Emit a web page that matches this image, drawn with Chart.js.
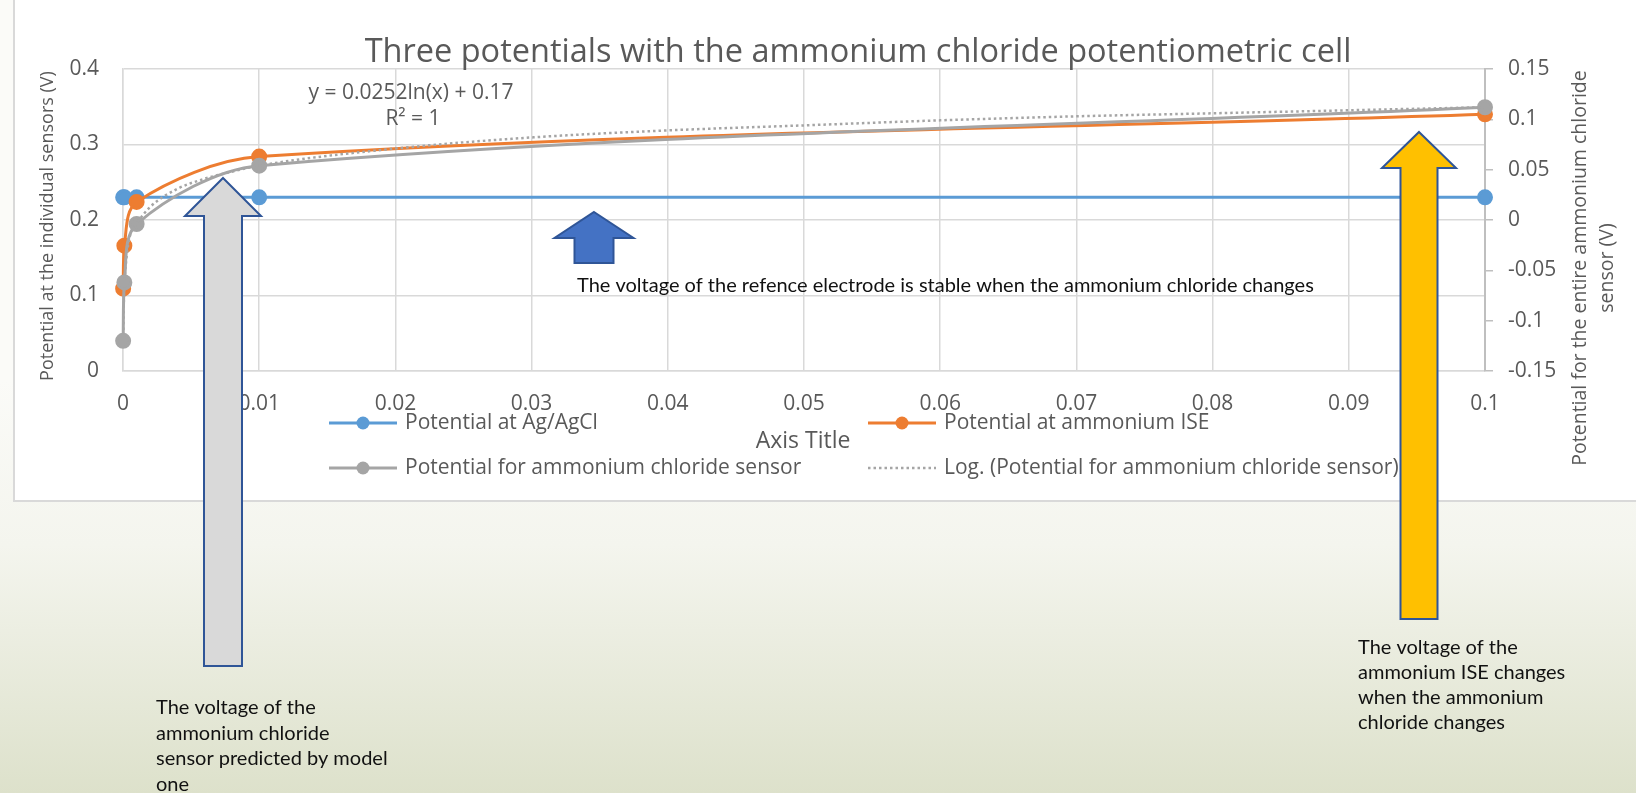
<!DOCTYPE html>
<html>
<head>
<meta charset="utf-8">
<script src="https://cdn.jsdelivr.net/npm/chart.js@4.4.0/dist/chart.umd.min.js"></script>
<style>
  html, body { margin: 0; padding: 0; background: #fff; }
  canvas { display: block; }
</style>
</head>
<body>
<canvas id="myGraph" width="1636" height="793"></canvas>
<script>
// concentratia de clorura de amoniu (axa x)
const concentration = [0.00001, 0.0001, 0.001, 0.01, 0.1];
const agAgClPotential = [0.23, 0.23, 0.23, 0.23, 0.23];
const ammoniumIsePotential = [0.109, 0.166, 0.224, 0.284, 0.340];
const sensorPotential = [-0.120, -0.062, -0.004, 0.054, 0.112];

// linia de trend logaritmica
const trendX = [0.00001, 0.0001, 0.001, 0.002, 0.004, 0.006, 0.008, 0.01, 0.02, 0.03, 0.04, 0.05, 0.06, 0.07, 0.08, 0.09, 0.1];
const trendY = [-0.120, -0.062, -0.004, 0.013, 0.031, 0.041, 0.048, 0.054, 0.071, 0.082, 0.089, 0.094, 0.099, 0.103, 0.106, 0.109, 0.112];
const trendLabel = ["y = 0.0252ln(x) + 0.17", "R² = 1"];

const seriesNames = [
  "Potential at Ag/AgCl",
  "Potential at ammonium ISE",
  "Potential for ammonium chloride sensor",
  "Log. (Potential for ammonium chloride sensor)"
];

const chartTitle = "Three potentials with the ammonium chloride potentiometric cell";
const xAxisTitle = "Axis Title";
const leftAxisTitle = "Potential at the individual sensors (V)";
const rightAxisTitle = ["Potential for the entire ammonium chloride", "sensor (V)"];

const noteReference = "The voltage of the refence electrode is stable when the ammonium chloride changes";
const noteModel = ["The voltage of the", "ammonium chloride", "sensor predicted by model", "one"];
const noteIse = ["The voltage of the", "ammonium ISE changes", "when the ammonium", "chloride changes"];

const textGray = '#595959';
const gridGray = '#d9d9d9';
const chartFont = '"Open Sans", "Noto Sans", sans-serif';
const noteFont = 'Lato, "Noto Sans", sans-serif';

function toPoints(xs, ys) {
  return xs.map((x, i) => ({ x: x, y: ys[i] }));
}

function seriesStyle(color) {
  return {
    borderColor: color,
    backgroundColor: color,
    pointBackgroundColor: color,
    pointBorderColor: color,
    borderWidth: 3,
    pointRadius: 6.5,
    pointHoverRadius: 6.5,
    tension: 0.32,
    clip: false,
    fill: false
  };
}

function drawUpArrow(ctx, a) {
  ctx.save();
  ctx.beginPath();
  ctx.moveTo(a.tipX, a.tipY);
  ctx.lineTo(a.tipX + a.head, a.baseY);
  ctx.lineTo(a.tipX + a.shaft, a.baseY);
  ctx.lineTo(a.tipX + a.shaft, a.bottom);
  ctx.lineTo(a.tipX - a.shaft, a.bottom);
  ctx.lineTo(a.tipX - a.shaft, a.baseY);
  ctx.lineTo(a.tipX - a.head, a.baseY);
  ctx.closePath();
  ctx.fillStyle = a.fill;
  ctx.fill();
  ctx.lineWidth = 2;
  ctx.strokeStyle = '#2f5597';
  ctx.lineJoin = 'miter';
  ctx.stroke();
  ctx.restore();
}

function drawRotated(ctx, text, x, y) {
  ctx.save();
  ctx.translate(x, y);
  ctx.rotate(-Math.PI / 2);
  ctx.fillText(text, 0, 0);
  ctx.restore();
}

const backgroundPlugin = {
  id: 'slideBackground',
  beforeDraw(chart) {
    const ctx = chart.ctx;
    const w = chart.width, h = chart.height;
    ctx.save();
    const g = ctx.createLinearGradient(0, 380, 0, h);
    g.addColorStop(0, '#fbfbf8');
    g.addColorStop(0.4, '#f4f5ee');
    g.addColorStop(1, '#dde1cb');
    ctx.fillStyle = g;
    ctx.fillRect(0, 0, w, h);
    ctx.fillStyle = '#ffffff';
    ctx.fillRect(13, -5, w, 506);
    ctx.strokeStyle = gridGray;
    ctx.lineWidth = 2;
    ctx.strokeRect(14, -5, w + 10, 506);
    ctx.restore();
  }
};

const decorPlugin = {
  id: 'decor',
  afterDraw(chart) {
    const ctx = chart.ctx;
    ctx.save();

    // titlul
    ctx.fillStyle = textGray;
    ctx.font = '32.5px ' + chartFont;
    ctx.textAlign = 'center';
    ctx.textBaseline = 'alphabetic';
    ctx.fillText(chartTitle, 858, 62);

    // ecuatia trendului
    ctx.font = '21px ' + chartFont;
    ctx.fillText(trendLabel[0], 411, 99);
    ctx.fillText(trendLabel[1], 413, 125);

    // titlurile axelor verticale
    ctx.textBaseline = 'middle';
    ctx.font = '18px ' + chartFont;
    drawRotated(ctx, leftAxisTitle, 48, 226);
    ctx.font = '19.5px ' + chartFont;
    drawRotated(ctx, rightAxisTitle[0], 1580, 268);
    drawRotated(ctx, rightAxisTitle[1], 1607, 268);

    // titlul axei x
    ctx.font = '23px ' + chartFont;
    ctx.fillText(xAxisTitle, 803, 441);

    // legenda
    const cols = [329, 868];
    const rows = [423, 468];
    ctx.textAlign = 'left';
    ctx.font = '21px ' + chartFont;
    chart.data.datasets.forEach((ds, i) => {
      const x = cols[i % 2];
      const y = rows[Math.floor(i / 2)];
      ctx.save();
      ctx.strokeStyle = ds.borderColor;
      ctx.lineWidth = ds.borderWidth;
      ctx.setLineDash(ds.borderDash || []);
      ctx.beginPath();
      ctx.moveTo(x, y);
      ctx.lineTo(x + 68, y);
      ctx.stroke();
      if (ds.pointRadius > 0) {
        ctx.fillStyle = ds.pointBackgroundColor;
        ctx.beginPath();
        ctx.arc(x + 34, y, ds.pointRadius, 0, Math.PI * 2);
        ctx.fill();
      }
      ctx.restore();
      ctx.fillStyle = textGray;
      ctx.fillText(ds.label, x + 76, y);
    });

    // sagetile
    drawUpArrow(ctx, { tipX: 594, tipY: 212, head: 39.5, shaft: 19.5, baseY: 238, bottom: 263, fill: '#4472c4' });
    drawUpArrow(ctx, { tipX: 223, tipY: 178, head: 38, shaft: 19, baseY: 216, bottom: 666, fill: '#d9d9d9' });
    drawUpArrow(ctx, { tipX: 1419, tipY: 132, head: 37, shaft: 18.5, baseY: 168, bottom: 619, fill: '#ffc000' });

    // notele
    ctx.fillStyle = '#111111';
    ctx.font = '20px ' + noteFont;
    ctx.textBaseline = 'alphabetic';
    ctx.fillText(noteReference, 577, 292);
    noteModel.forEach((line, i) => ctx.fillText(line, 156, 714 + i * 25.7));
    noteIse.forEach((line, i) => ctx.fillText(line, 1358, 654 + i * 25));

    ctx.restore();
  }
};

const graph = document.getElementById('myGraph');
const tickFont = { family: chartFont, size: 21 };

const chart = new Chart(graph, {
  type: 'line',
  data: {
    datasets: [
      Object.assign({ label: seriesNames[0], data: toPoints(concentration, agAgClPotential), yAxisID: 'y', order: 4 }, seriesStyle('#5b9bd5')),
      Object.assign({ label: seriesNames[1], data: toPoints(concentration, ammoniumIsePotential), yAxisID: 'y', order: 3 }, seriesStyle('#ed7d31')),
      Object.assign({ label: seriesNames[2], data: toPoints(concentration, sensorPotential), yAxisID: 'y2', order: 2 }, seriesStyle('#a5a5a5')),
      {
        label: seriesNames[3],
        data: toPoints(trendX, trendY),
        yAxisID: 'y2',
        order: 1,
        borderColor: '#a5a5a5',
        borderWidth: 2.5,
        borderDash: [2.5, 3],
        pointRadius: 0,
        cubicInterpolationMode: 'monotone',
        fill: false
      }
    ]
  },
  options: {
    responsive: false,
    animation: false,
    devicePixelRatio: 1,
    layout: { padding: { left: 0, right: 0, top: 69, bottom: 382 } },
    plugins: {
      legend: { display: false },
      title: { display: false },
      tooltip: { enabled: false }
    },
    scales: {
      x: {
        type: 'linear',
        position: 'bottom',
        min: 0,
        max: 0.1,
        ticks: { stepSize: 0.01, color: textGray, font: tickFont, padding: 20, maxRotation: 0, format: { minimumFractionDigits: 0 } },
        grid: { color: gridGray, lineWidth: 1.5, drawTicks: false },
        border: { color: gridGray, width: 1.5 },
        afterFit: s => { s.height = 40; }
      },
      y: {
        type: 'linear',
        position: 'left',
        min: 0,
        max: 0.4,
        ticks: { stepSize: 0.1, color: textGray, font: tickFont, padding: 24, format: { minimumFractionDigits: 0 } },
        grid: { color: gridGray, lineWidth: 1.5, drawTicks: false },
        border: { color: gridGray, width: 1.5 },
        afterFit: s => { s.width = 123; }
      },
      y2: {
        type: 'linear',
        position: 'right',
        min: -0.15,
        max: 0.15,
        ticks: { stepSize: 0.05, color: textGray, font: tickFont, padding: 15, format: { minimumFractionDigits: 0 } },
        grid: { drawOnChartArea: false, drawTicks: true, tickLength: 8, color: '#bfbfbf', lineWidth: 1.5 },
        border: { color: '#bfbfbf', width: 2 },
        afterFit: s => { s.width = 151; }
      }
    }
  },
  plugins: [backgroundPlugin, decorPlugin]
});
</script>
</body>
</html>
